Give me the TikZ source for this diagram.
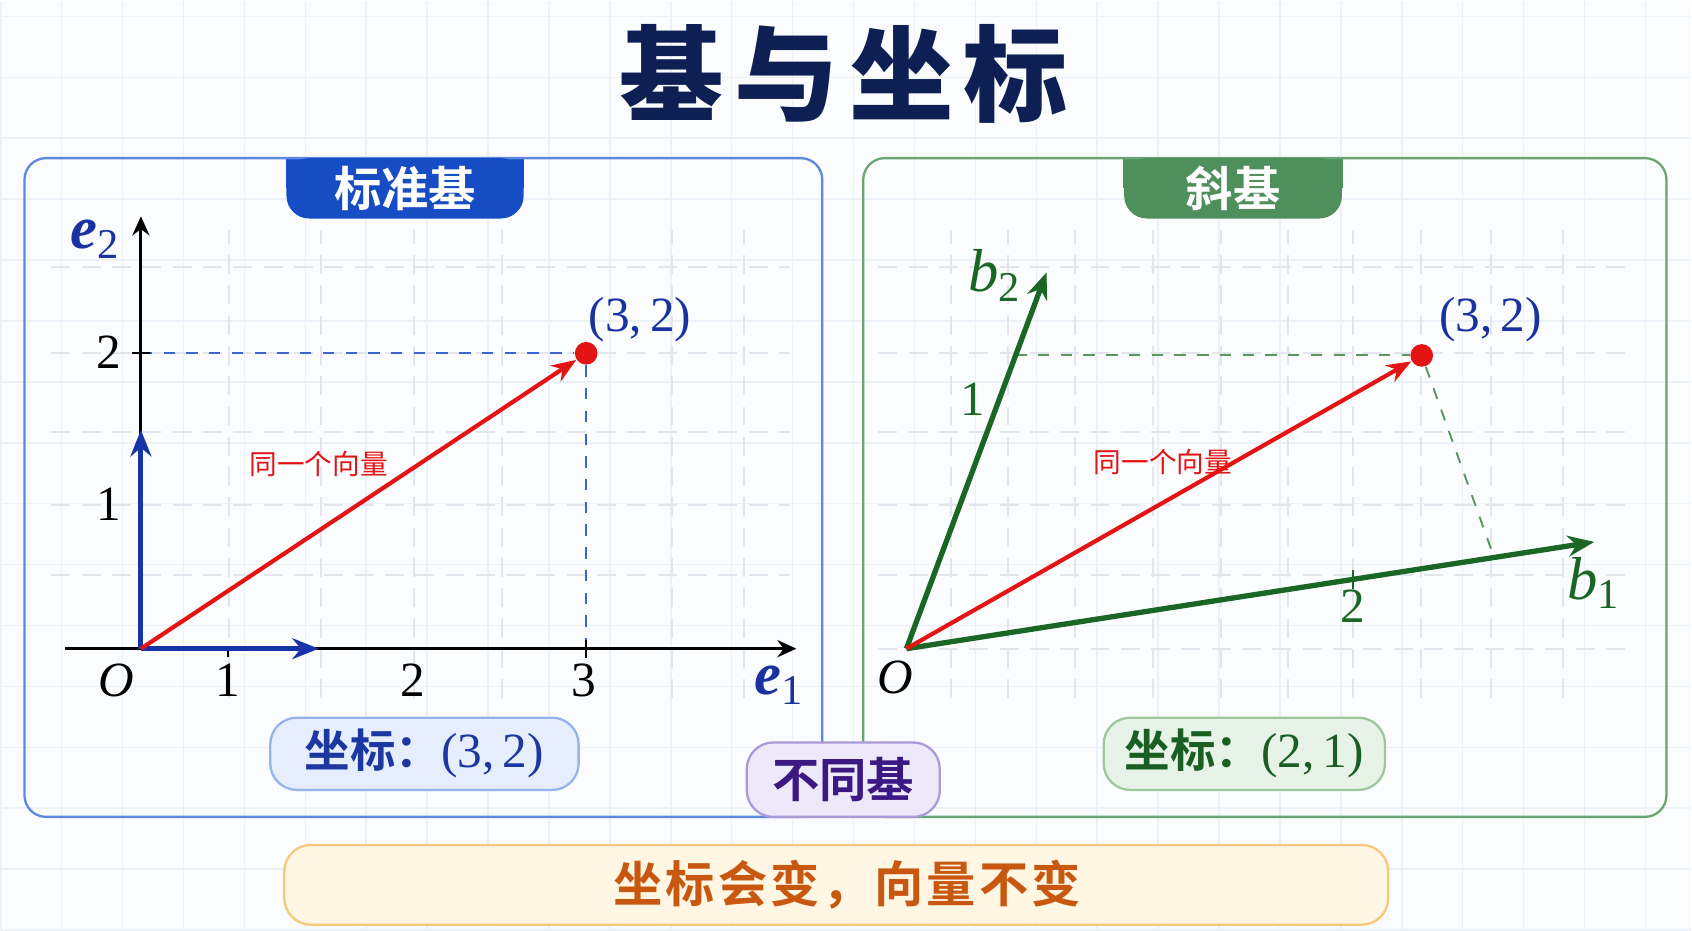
\documentclass[tikz,border=0pt]{standalone}
\usepackage{fontspec}
\setmainfont{Liberation Serif}
\newfontfamily\cjk{Noto Sans CJK SC}[BoldFont={Noto Sans CJK SC Bold}]
\newfontfamily\cjktitle{Noto Sans CJK SC Black}[LetterSpace=10]
\newfontfamily\cjkwide{Noto Sans CJK SC Bold}[LetterSpace=6]
\usetikzlibrary{arrows.meta, backgrounds}
\definecolor{pagebg}{RGB}{251, 252, 254}
\definecolor{bggrid}{RGB}{236, 240, 247}
\definecolor{gridgray}{RGB}{226, 229, 236}
\definecolor{titlenavy}{RGB}{14, 31, 84}
\definecolor{stdblue}{RGB}{22, 76, 196}
\definecolor{panelblue}{RGB}{92, 136, 226}
\definecolor{vecblue}{RGB}{22, 52, 168}
\definecolor{labelblue}{RGB}{26, 50, 160}
\definecolor{projblue}{RGB}{60, 100, 210}
\definecolor{vecred}{RGB}{228, 20, 20}
\definecolor{obliquegreen}{RGB}{78, 143, 92}
\definecolor{panelgreen}{RGB}{106, 166, 112}
\definecolor{vecgreen}{RGB}{26, 102, 36}
\definecolor{projgreen}{RGB}{90, 150, 96}
\definecolor{coordbluefill}{RGB}{230, 238, 254}
\definecolor{coordblueline}{RGB}{150, 180, 236}
\definecolor{coordbluetext}{RGB}{28, 56, 160}
\definecolor{coordgreenfill}{RGB}{232, 243, 232}
\definecolor{coordgreenline}{RGB}{156, 200, 156}
\definecolor{coordgreentext}{RGB}{26, 94, 36}
\definecolor{difffill}{RGB}{237, 232, 250}
\definecolor{diffline}{RGB}{170, 155, 216}
\definecolor{difftext}{RGB}{60, 24, 130}
\definecolor{sumfill}{RGB}{255, 246, 228}
\definecolor{sumline}{RGB}{246, 200, 122}
\definecolor{sumtext}{RGB}{200, 88, 16}

\begin{document}
\begin{tikzpicture}[
    panel/.style={rectangle, rounded corners=0.2cm, line width=0.6pt, minimum height=6.11cm},
    tabbox/.style={rectangle, rounded corners=6pt, inner sep=1pt, minimum height=0.56cm, text=white, font=\cjk\bfseries\fontsize{12.5}{13}\selectfont},
    infobox/.style={rectangle, rounded corners=7pt, inner sep=2pt, line width=0.6pt, minimum height=0.67cm, font=\fontsize{13}{14}\selectfont},
    axisline/.style={-{Stealth[length=5pt, width=4.5pt]}, line width=0.8pt, black},
    basisblue/.style={-{Stealth[length=7pt, width=5.5pt]}, line width=1.3pt, vecblue},
    basisgreen/.style={-{Stealth[length=7pt, width=5.5pt]}, line width=1.4pt, vecgreen},
    samevec/.style={-{Stealth[length=6.5pt, width=5pt]}, line width=1.1pt, vecred},
    tipdot/.style={circle, fill=vecred, minimum size=0.21cm, inner sep=0pt},
    proj/.style={dashed, line width=0.5pt},
    innergrid/.style={gridgray, line width=0.5pt, dash pattern=on 5pt off 3pt},
    num/.style={font=\fontsize{13}{13}\selectfont},
    veclabel/.style={font=\fontsize{16}{16}\selectfont},
    note/.style={font=\cjk\fontsize{7.3}{8}\selectfont, text=vecred},
]

% Page and faint grid
\begin{scope}[on background layer]
\fill[pagebg] (0,0) rectangle (15.68,8.62);
\draw[bggrid, line width=0.4pt] (0,0) grid[step=0.565] (15.68,8.62);
\end{scope}
\useasboundingbox (0,0) rectangle (15.68,8.62);

% Title
\node[font=\cjktitle\fontsize{27.5}{30}\selectfont, text=titlenavy] (title) at (7.82,7.94) {基与坐标};

% Panels
\node[panel, draw=panelblue, minimum width=7.40cm] (stdpanel) at (3.92,4.105) {};
\node[panel, draw=panelgreen, minimum width=7.45cm] (oblpanel) at (11.725,4.105) {};

\node[tabbox, fill=stdblue, minimum width=2.2cm] (tabL) at (3.75,6.88) {标准基};
\node[tabbox, fill=obliquegreen, minimum width=2.02cm] (tabR) at (11.43,6.88) {斜基};
\begin{scope}[on background layer]
\fill[stdblue] (tabL.north west) rectangle (tabL.east);
\fill[obliquegreen] (tabR.north west) rectangle (tabR.east);
\end{scope}

% Dashed grids
\foreach \x in {2.12,2.97,3.83,4.65,6.23,6.89}
    \draw[innergrid] (\x,2.15) -- (\x,6.49);
\foreach \y in {6.15,5.35,4.62,3.94,3.29}
    \draw[innergrid] (0.47,\y) -- (7.32,\y);
\foreach \x in {8.81,9.34,9.96,10.69,11.32,11.94,12.54,13.17,13.82,14.49}
    \draw[innergrid] (\x,2.15) -- (\x,6.49);
\foreach \y in {6.15,5.35,4.62,3.94,3.29,2.61}
    \draw[innergrid] (8.14,\y) -- (15.12,\y);

% Standard basis
\coordinate (O1) at (1.30,2.61);
\coordinate (xs1) at (0.60,2.61);
\coordinate (xe1) at (7.38,2.61);
\coordinate (ye1) at (1.30,6.62);
\coordinate (e1tip) at (2.95,2.61);
\coordinate (e2tip) at (1.30,4.64);
\coordinate (y2) at (1.30,5.35);
\coordinate (x3) at (5.43,2.61);
\node[tipdot] (P1) at (5.43,5.35) {};

\draw[proj, projblue] (y2) -- (P1);
\draw[proj, projblue] (P1) -- (x3);
\draw[axisline] (xs1) -- (xe1);
\draw[axisline] (O1) -- (ye1);
\draw[black, line width=0.6pt] (2.11,2.61) -- (2.11,2.53);
\draw[black, line width=0.6pt] (5.43,2.69) -- (5.43,2.52);
\draw[black, line width=0.6pt] (1.22,5.35) -- (1.38,5.35);
\draw[basisblue] (O1) -- (e1tip);
\draw[basisblue] (O1) -- (e2tip);
\draw[samevec] (O1) -- (P1);

\node[num] (yl2) at (1.00,5.36) {2};
\node[num] (yl1) at (1.00,3.95) {1};
\node[num] (O1lab) at (1.07,2.32) {\itshape O};
\node[num] (xl1) at (2.11,2.32) {1};
\node[num] (xl2) at (3.82,2.32) {2};
\node[num] (xl3) at (5.41,2.32) {3};
\node[veclabel, text=labelblue] (e1lab) at (7.22,2.27) {\textbf{\textit{e}}\textsubscript{1}};
\node[veclabel, text=labelblue] (e2lab) at (0.88,6.41) {\textbf{\textit{e}}\textsubscript{2}};
\node[num, text=labelblue] (P1lab) at (5.93,5.66) {(3,\,2)};
\node[note] (same1) at (2.95,4.32) {同一个向量};

% Oblique basis
\coordinate (O2) at (8.40,2.61);
\coordinate (b1tip) at (14.78,3.60);
\coordinate (b2tip) at (9.70,6.10);
\coordinate (onb2) at (9.41,5.33);
\coordinate (onb1) at (13.85,3.46);
\node[tipdot] (P2) at (13.18,5.33) {};

\draw[proj, projgreen] (onb2) -- (P2);
\draw[proj, projgreen] (P2) -- (onb1);
\draw[vecgreen, line width=0.6pt] (12.54,3.16) -- (12.54,3.34);
\draw[basisgreen] (O2) -- (b1tip);
\draw[basisgreen] (O2) -- (b2tip);
\draw[samevec] (O2) -- (P2);

\node[num, text=vecgreen] (bl2) at (12.54,3.00) {2};
\node[num, text=vecgreen] (bl1) at (9.02,4.92) {1};
\node[num] (O2lab) at (8.30,2.34) {\itshape O};
\node[veclabel, text=vecgreen] (b1lab) at (14.78,3.22) {\textit{b}\textsubscript{1}};
\node[veclabel, text=vecgreen] (b2lab) at (9.22,6.07) {\textit{b}\textsubscript{2}};
\node[num, text=labelblue] (P2lab) at (13.82,5.66) {(3,\,2)};
\node[note] (same2) at (10.78,4.34) {同一个向量};

% Coordinate boxes
\node[infobox, fill=coordbluefill, draw=coordblueline, text=coordbluetext, minimum width=2.86cm] (coordL) at (3.93,1.635) {{\cjk\bfseries\fontsize{12}{13}\selectfont 坐标：}(3,\,2)};
\node[infobox, fill=coordgreenfill, draw=coordgreenline, text=coordgreentext, minimum width=2.61cm] (coordR) at (11.535,1.635) {{\cjk\bfseries\fontsize{12}{13}\selectfont 坐标：}(2,\,1)};
\node[infobox, fill=difffill, draw=diffline, text=difftext, minimum width=1.79cm, minimum height=0.69cm, font=\cjk\bfseries\fontsize{12.5}{13}\selectfont] (diffbasis) at (7.815,1.395) {不同基};
\node[infobox, fill=sumfill, draw=sumline, text=sumtext, minimum width=10.24cm, minimum height=0.74cm, font=\cjkwide\fontsize{13}{14}\selectfont] (summary) at (7.75,0.42) {\hspace{0.2cm}坐标会变，向量不变};

\end{tikzpicture}
\end{document}
